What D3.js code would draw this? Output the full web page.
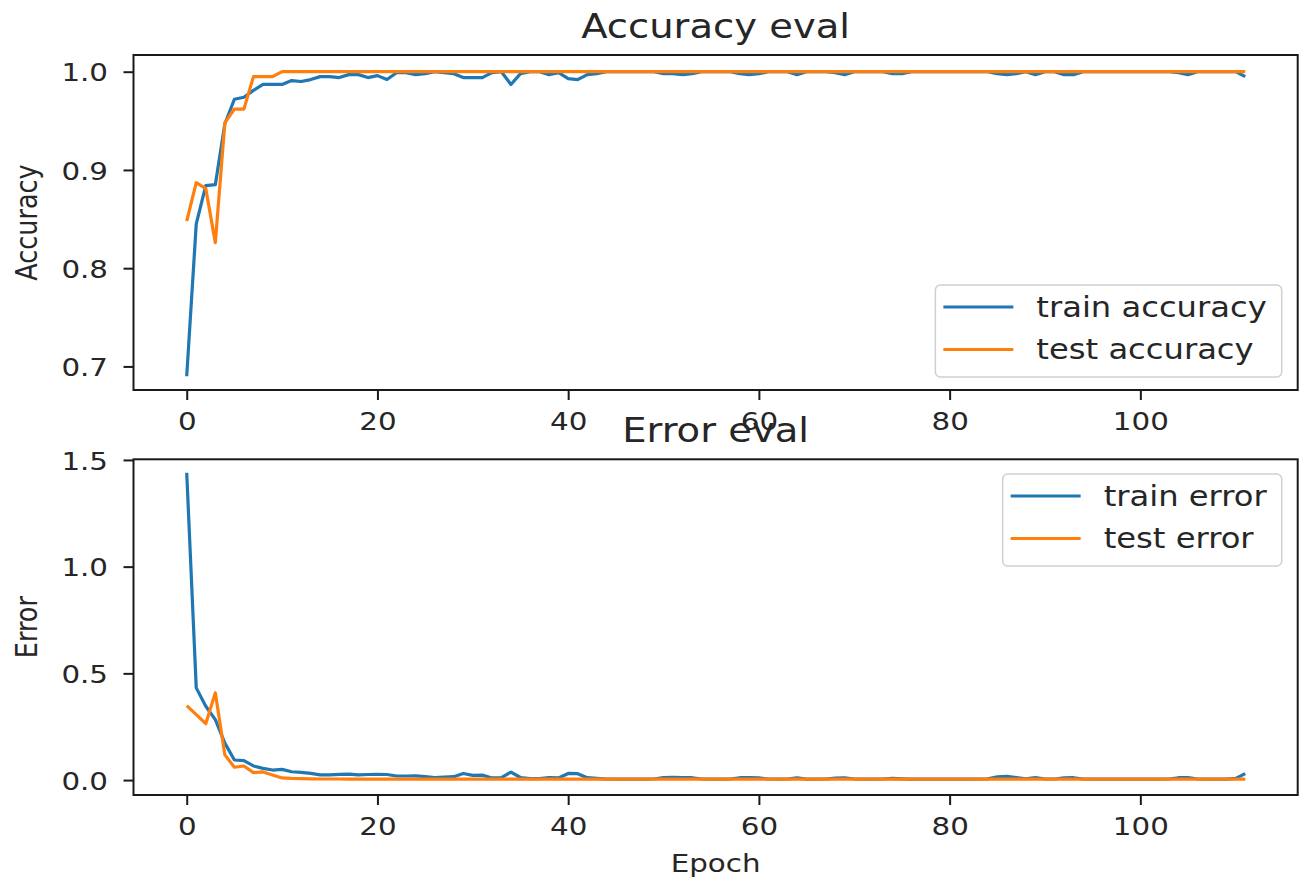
<!DOCTYPE html>
<html>
<head>
<meta charset="utf-8">
<script src="https://cdn.jsdelivr.net/npm/d3@7"></script>
<style>
body { margin: 0; background: #fff; }
text { font-family: "DejaVu Sans", sans-serif; fill: #262626; }
</style>
</head>
<body>
<svg id="chart" width="1306" height="881"></svg>
<script>
// ---- data ----
const xTicks = [0, 20, 40, 60, 80, 100];
const accTicks = [0.7, 0.8, 0.9, 1.0];
const errTicks = [0.0, 0.5, 1.0, 1.5];

const trainAccuracy = [
    0.690, 0.845, 0.884, 0.885, 0.947, 0.972, 0.974, 0.981, 0.987, 0.987,
    0.987, 0.991, 0.990, 0.992, 0.995, 0.995, 0.994, 0.997, 0.997, 0.994,
    0.996, 0.992, 0.999, 0.999, 0.997, 0.998, 1.000, 0.999, 0.998, 0.994,
    0.994, 0.994, 0.999, 1.000, 0.987, 0.998, 1.000, 1.000, 0.997, 0.999,
    0.993, 0.992, 0.997, 0.998, 1.000, 1.000, 1.000, 1.000, 1.000, 1.000,
    0.998, 0.998, 0.997, 0.998, 1.000, 1.000, 1.000, 1.000, 0.998, 0.997,
    0.998, 1.000, 1.000, 1.000, 0.997, 1.000, 1.000, 1.000, 0.999, 0.997,
    1.000, 1.000, 1.000, 1.000, 0.998, 0.998, 1.000, 1.000, 1.000, 1.000,
    1.000, 1.000, 1.000, 1.000, 1.000, 0.998, 0.997, 0.998, 1.000, 0.997,
    1.000, 1.000, 0.997, 0.997, 1.000, 1.000, 1.000, 1.000, 1.000, 1.000,
    1.000, 1.000, 1.000, 1.000, 0.999, 0.997, 1.000, 1.000, 1.000, 1.000,
    1.000, 0.995
];
const testAccuracy = [
    0.848, 0.887, 0.881, 0.826, 0.948, 0.962, 0.962, 0.995, 0.995, 0.995,
    1.000, 1.000, 1.000, 1.000, 1.000, 1.000, 1.000, 1.000, 1.000, 1.000,
    1.000, 1.000, 1.000, 1.000, 1.000, 1.000, 1.000, 1.000, 1.000, 1.000,
    1.000, 1.000, 1.000, 1.000, 1.000, 1.000, 1.000, 1.000, 1.000, 1.000,
    1.000, 1.000, 1.000, 1.000, 1.000, 1.000, 1.000, 1.000, 1.000, 1.000,
    1.000, 1.000, 1.000, 1.000, 1.000, 1.000, 1.000, 1.000, 1.000, 1.000,
    1.000, 1.000, 1.000, 1.000, 1.000, 1.000, 1.000, 1.000, 1.000, 1.000,
    1.000, 1.000, 1.000, 1.000, 1.000, 1.000, 1.000, 1.000, 1.000, 1.000,
    1.000, 1.000, 1.000, 1.000, 1.000, 1.000, 1.000, 1.000, 1.000, 1.000,
    1.000, 1.000, 1.000, 1.000, 1.000, 1.000, 1.000, 1.000, 1.000, 1.000,
    1.000, 1.000, 1.000, 1.000, 1.000, 1.000, 1.000, 1.000, 1.000, 1.000,
    1.000, 1.000
];
const trainError = [
    1.440, 0.432, 0.346, 0.283, 0.173, 0.094, 0.091, 0.066, 0.055, 0.047,
    0.050, 0.039, 0.036, 0.031, 0.024, 0.024, 0.027, 0.028, 0.024, 0.026,
    0.027, 0.026, 0.019, 0.019, 0.020, 0.016, 0.012, 0.014, 0.016, 0.031,
    0.022, 0.023, 0.010, 0.011, 0.037, 0.012, 0.007, 0.007, 0.012, 0.010,
    0.031, 0.030, 0.011, 0.008, 0.005, 0.004, 0.004, 0.004, 0.004, 0.005,
    0.012, 0.013, 0.012, 0.011, 0.005, 0.004, 0.004, 0.005, 0.011, 0.012,
    0.010, 0.005, 0.004, 0.005, 0.010, 0.004, 0.004, 0.005, 0.009, 0.010,
    0.005, 0.004, 0.004, 0.005, 0.008, 0.006, 0.004, 0.004, 0.004, 0.004,
    0.004, 0.004, 0.004, 0.005, 0.006, 0.015, 0.017, 0.012, 0.006, 0.012,
    0.005, 0.005, 0.010, 0.011, 0.005, 0.004, 0.004, 0.004, 0.004, 0.004,
    0.004, 0.004, 0.004, 0.005, 0.011, 0.012, 0.005, 0.004, 0.004, 0.004,
    0.008, 0.030
];
const testError = [
    0.349, 0.307, 0.264, 0.409, 0.118, 0.060, 0.066, 0.035, 0.038, 0.024,
    0.010, 0.008, 0.007, 0.006, 0.005, 0.005, 0.005, 0.004, 0.004, 0.004,
    0.004, 0.004, 0.004, 0.004, 0.004, 0.004, 0.004, 0.004, 0.004, 0.004,
    0.004, 0.004, 0.004, 0.004, 0.004, 0.004, 0.004, 0.004, 0.004, 0.004,
    0.004, 0.004, 0.004, 0.004, 0.004, 0.004, 0.004, 0.004, 0.004, 0.004,
    0.004, 0.004, 0.004, 0.004, 0.004, 0.004, 0.004, 0.004, 0.004, 0.004,
    0.004, 0.004, 0.004, 0.004, 0.004, 0.004, 0.004, 0.004, 0.004, 0.004,
    0.004, 0.004, 0.004, 0.004, 0.004, 0.004, 0.004, 0.004, 0.004, 0.004,
    0.004, 0.004, 0.004, 0.004, 0.004, 0.004, 0.004, 0.004, 0.004, 0.004,
    0.004, 0.004, 0.004, 0.004, 0.004, 0.004, 0.004, 0.004, 0.004, 0.004,
    0.004, 0.004, 0.004, 0.004, 0.004, 0.004, 0.004, 0.004, 0.004, 0.004,
    0.004, 0.004
];

const BLUE = '#1f77b4', ORANGE = '#ff7f0e';
const S = 1.15;   // the source picture was stretched sideways, text with it

class EvalChart {

    constructor( config, data ) {
        this.config = {
            parent: config.parent,
            left: config.left,
            top: config.top,
            width: config.width,
            height: config.height,
            title: config.title || '',
            xlabel: config.xlabel || '',
            ylabel: config.ylabel || '',
            ydomain: config.ydomain,
            yticks: config.yticks,
            legendTop: config.legendTop
        }
        this.data = data;
        this.init();
    }

    init() {
        let self = this;

        self.chart = self.config.parent.append('g')
            .attr('transform', `translate(${self.config.left}, ${self.config.top})`);

        self.xscale = d3.scaleLinear()
            .domain([-5.58, 116.5])
            .range([0, self.config.width]);

        self.yscale = d3.scaleLinear()
            .domain(self.config.ydomain)
            .range([self.config.height, 0]);

        self.xaxis = d3.axisBottom( self.xscale )
            .tickValues(xTicks)
            .tickSize(10)
            .tickFormat(d3.format('d'));

        self.yaxis = d3.axisLeft( self.yscale )
            .tickValues(self.config.yticks)
            .tickSize(10)
            .tickFormat(d3.format('.1f'));

        self.xaxis_group = self.chart.append('g')
            .attr('transform', `translate(0, ${self.config.height})`);

        self.yaxis_group = self.chart.append('g');

        self.render();
    }

    render() {
        let self = this;
        const w = self.config.width, h = self.config.height;

        self.line = d3.line()
            .x( (d, i) => self.xscale(i) )
            .y( d => self.yscale(d) );

        self.chart.selectAll('path.series')
            .data(self.data)
            .join('path')
            .attr('class', 'series')
            .attr('d', d => self.line(d.values))
            .attr('stroke', d => d.color)
            .attr('stroke-width', 3.2)
            .attr('stroke-linejoin', 'round')
            .attr('fill', 'none');

        // frame
        self.chart.append('rect')
            .attr('width', w)
            .attr('height', h)
            .attr('fill', 'none')
            .attr('stroke', '#1a1a1a')
            .attr('stroke-width', 2);

        self.xaxis_group.call( self.xaxis )
            .call(g => g.select('.domain').remove());
        self.xaxis_group.selectAll('line').attr('stroke', '#1a1a1a').attr('stroke-width', 2);
        self.xaxis_group.selectAll('text')
            .attr('y', 0).attr('dy', 0)
            .attr('font-size', 25.5)
            .attr('transform', `translate(0, 40) scale(${S}, 1)`);

        self.yaxis_group.call( self.yaxis )
            .call(g => g.select('.domain').remove());
        self.yaxis_group.selectAll('line').attr('stroke', '#1a1a1a').attr('stroke-width', 2);
        self.yaxis_group.selectAll('text')
            .attr('x', 0).attr('dy', '0.36em')
            .attr('font-size', 25.5)
            .attr('transform', `translate(-25.5, 0) scale(${S}, 1)`);

        self.chart.append('text')
            .attr('text-anchor', 'middle')
            .attr('font-size', 33.5)
            .attr('transform', `translate(${w / 2}, -17) scale(${S}, 1)`)
            .text(self.config.title);

        self.chart.append('text')
            .attr('text-anchor', 'middle')
            .attr('font-size', 25.5)
            .attr('transform', `translate(-97, ${h / 2}) scale(${S}, 1) rotate(-90)`)
            .text(self.config.ylabel);

        if (self.config.xlabel) {
            self.chart.append('text')
                .attr('text-anchor', 'middle')
                .attr('font-size', 25.5)
                .attr('transform', `translate(${w / 2}, ${h + 77}) scale(${S}, 1)`)
                .text(self.config.xlabel);
        }

        // legend
        const legend = self.chart.append('g');
        const box = legend.append('rect')
            .attr('rx', 5)
            .attr('height', 92)
            .attr('fill', 'white')
            .attr('fill-opacity', 0.8)
            .attr('stroke', '#d0d0d0')
            .attr('stroke-width', 1.5);

        const rows = legend.selectAll('g.row')
            .data(self.data)
            .join('g')
            .attr('class', 'row')
            .attr('transform', (d, i) => `translate(0, ${22 + i * 42.5})`);

        rows.append('line')
            .attr('x1', 8).attr('x2', 78)
            .attr('stroke', d => d.color)
            .attr('stroke-width', 3.2);

        rows.append('text')
            .attr('font-size', 28)
            .attr('transform', `translate(101, 9.5) scale(${S}, 1)`)
            .text(d => d.label);

        let maxLen = 0;
        rows.selectAll('text').each(function() {
            maxLen = Math.max(maxLen, this.getComputedTextLength());
        });
        const boxW = 101 + maxLen * S + 15;
        box.attr('width', boxW);
        legend.attr('transform', `translate(${w - 16 - boxW}, ${self.config.legendTop})`);
    }

}

const svg = d3.select('#chart');

new EvalChart({
    parent: svg,
    left: 133.5, top: 55, width: 1164.2, height: 335,
    title: 'Accuracy eval',
    ylabel: 'Accuracy',
    ydomain: [0.676, 1.017],
    yticks: accTicks,
    legendTop: 230
}, [
    { label: 'train accuracy', values: trainAccuracy, color: BLUE },
    { label: 'test accuracy', values: testAccuracy, color: ORANGE }
]);

new EvalChart({
    parent: svg,
    left: 133.5, top: 459.3, width: 1164.2, height: 335.7,
    title: 'Error eval',
    ylabel: 'Error',
    xlabel: 'Epoch',
    ydomain: [-0.070, 1.503],
    yticks: errTicks,
    legendTop: 14.7
}, [
    { label: 'train error', values: trainError, color: BLUE },
    { label: 'test error', values: testError, color: ORANGE }
]);
</script>
</body>
</html>
